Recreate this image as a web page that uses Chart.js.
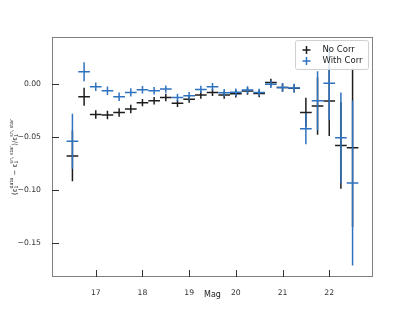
<!DOCTYPE html>
<html>
<head>
<meta charset="utf-8">
<script src="https://cdn.jsdelivr.net/npm/chart.js@4.4.1/dist/chart.umd.min.js"></script>
<style>
  html, body { margin: 0; padding: 0; background: #fff; }
  #wrap { width: 415px; height: 311px; }
</style>
</head>
<body>
<div id="wrap"><canvas id="chart" width="415" height="311"></canvas></div>
<script>
// Magnitude bin centres
var mags = [16.5, 16.75, 17.0, 17.25, 17.5, 17.75, 18.0, 18.25, 18.5, 18.75, 19.0, 19.25, 19.5,
            19.75, 20.0, 20.25, 20.5, 20.75, 21.0, 21.25, 21.5, 21.75, 22.0, 22.25, 22.5];
var binHalfWidth = 0.125;

// No Corr
var noCorr = [-0.0677, -0.0117, -0.0285, -0.0290, -0.0266, -0.0234, -0.0173, -0.0155, -0.0124,
              -0.0180, -0.0140, -0.0102, -0.0076, -0.0102, -0.0089, -0.0064, -0.0086, 0.0018,
              -0.0029, -0.0038, -0.0266, -0.0206, -0.0158, -0.0579, -0.0601];
var noCorrErr = [0.024, 0.0085, 0.004, 0.004, 0.004, 0.004, 0.0035, 0.0035, 0.0035, 0.0035,
                 0.0035, 0.0035, 0.0035, 0.0035, 0.0035, 0.0035, 0.0035, 0.0035, 0.004, 0.004,
                 0.014, 0.027, 0.033, 0.041, 0.075];

// With Corr
var withCorr = [-0.0538, 0.0120, -0.0022, -0.0060, -0.0117, -0.0076, -0.0051, -0.0061, -0.0045,
                -0.0124, -0.0108, -0.0048, -0.0023, -0.0080, -0.0075, -0.0054, -0.0076, 0.0000,
                -0.0029, -0.0035, -0.0421, -0.0155, 0.0010, -0.0506, -0.0933];
var withCorrErr = [0.026, 0.009, 0.004, 0.004, 0.004, 0.004, 0.0035, 0.0035, 0.0035, 0.0035,
                   0.0035, 0.0035, 0.0035, 0.0035, 0.0035, 0.0035, 0.0035, 0.0035, 0.004, 0.004,
                   0.0145, 0.028, 0.035, 0.043, 0.078];

var xTicks = [17, 18, 19, 20, 21, 22];
var yTicks = [0.0, -0.05, -0.10, -0.15];

var BLACK = '#1e1e1e';
var BLUE = '#2f73c0';
var FONT = '"DejaVu Sans", sans-serif';

function pts(ys, errs) {
    return mags.map(function (m, i) { return { x: m, y: ys[i], err: errs[i] }; });
}

// error bars, frame, inward ticks, labels, legend
var drawPlugin = {
    id: 'drawPlugin',
    afterDatasetsDraw: function (chart) {
        var ctx = chart.ctx, xs = chart.scales.x, ys = chart.scales.y, a = chart.chartArea;
        ctx.save();
        ctx.beginPath();
        ctx.rect(a.left, a.top, a.right - a.left, a.bottom - a.top);
        ctx.clip();
        chart.data.datasets.forEach(function (ds) {
            ctx.strokeStyle = ds.borderColor;
            ctx.lineWidth = 1.5;
            ds.data.forEach(function (p) {
                var px = xs.getPixelForValue(p.x), py = ys.getPixelForValue(p.y);
                ctx.beginPath();
                ctx.moveTo(xs.getPixelForValue(p.x - binHalfWidth), py);
                ctx.lineTo(xs.getPixelForValue(p.x + binHalfWidth), py);
                ctx.moveTo(px, ys.getPixelForValue(p.y - p.err));
                ctx.lineTo(px, ys.getPixelForValue(p.y + p.err));
                ctx.stroke();
            });
        });
        ctx.restore();

        ctx.save();
        // frame
        ctx.strokeStyle = '#808080';
        ctx.lineWidth = 1;
        ctx.strokeRect(Math.round(a.left) + 0.5, Math.round(a.top) + 0.5,
                       Math.round(a.right - a.left) - 1, Math.round(a.bottom - a.top) - 1);
        // inward ticks
        ctx.strokeStyle = '#333';
        ctx.beginPath();
        xTicks.forEach(function (t) {
            var px = Math.round(xs.getPixelForValue(t)) + 0.5;
            ctx.moveTo(px, a.bottom);
            ctx.lineTo(px, a.bottom - 7);
        });
        yTicks.forEach(function (t) {
            var py = Math.round(ys.getPixelForValue(t)) + 0.5;
            ctx.moveTo(a.left, py);
            ctx.lineTo(a.left + 7, py);
        });
        ctx.stroke();

        // x label
        ctx.fillStyle = '#222';
        ctx.font = '8px ' + FONT;
        ctx.textAlign = 'center';
        ctx.textBaseline = 'middle';
        ctx.fillText('Mag', (a.left + a.right) / 2, 295);

        // y label, rotated, with sub/superscripts
        var parts = [
            ['(\u03b5', 7, 0], ['1', 4.8, 2], ['data', 4.8, -3],
            [' \u2212 \u03b5', 7, 0], ['1', 4.8, 2], ['sn, star', 4.8, -3],
            [')/\u03b5', 7, 0], ['1', 4.8, 2], ['sn, star', 4.8, -3]
        ];
        var total = 0, i, subW = 0;
        var widths = parts.map(function (p) {
            ctx.font = p[1] + 'px ' + FONT;
            return ctx.measureText(p[0]).width;
        });
        // subscript and superscript share the same horizontal slot
        for (i = 0; i < parts.length; i++) {
            if (parts[i][2] > 0) { subW = widths[i]; continue; }
            if (parts[i][2] < 0) { total += Math.max(subW, widths[i]); subW = 0; continue; }
            total += widths[i];
        }
        ctx.translate(15, (a.top + a.bottom) / 2);
        ctx.rotate(-Math.PI / 2);
        ctx.textAlign = 'left';
        ctx.textBaseline = 'middle';
        var cx = -total / 2;
        for (i = 0; i < parts.length; i++) {
            ctx.font = parts[i][1] + 'px ' + FONT;
            ctx.fillText(parts[i][0], cx, parts[i][2]);
            if (parts[i][2] > 0) { subW = widths[i]; continue; }
            if (parts[i][2] < 0) { cx += Math.max(subW, widths[i]); subW = 0; continue; }
            cx += widths[i];
        }
        ctx.restore();

        // legend
        ctx.save();
        var lx = 295.5, ly = 40.5, lw = 73, lh = 29;
        ctx.fillStyle = 'rgba(255,255,255,0.8)';
        ctx.strokeStyle = '#d0d0d0';
        ctx.lineWidth = 1;
        ctx.beginPath();
        ctx.roundRect(lx, ly, lw, lh, 2);
        ctx.fill();
        ctx.stroke();
        chart.data.datasets.forEach(function (ds, k) {
            var my = 50 + k * 11;
            ctx.strokeStyle = ds.borderColor;
            ctx.lineWidth = 1.5;
            ctx.beginPath();
            ctx.moveTo(302.5, my); ctx.lineTo(310.5, my);
            ctx.moveTo(306.5, my - 4); ctx.lineTo(306.5, my + 4);
            ctx.stroke();
            ctx.fillStyle = '#222';
            ctx.font = '8.5px ' + FONT;
            ctx.textAlign = 'left';
            ctx.textBaseline = 'middle';
            ctx.fillText(ds.label, 322.5, my);
        });
        ctx.restore();
    }
};

new Chart(document.getElementById('chart').getContext('2d'), {
    type: 'scatter',
    data: {
        datasets: [
            { label: 'No Corr', data: pts(noCorr, noCorrErr), borderColor: BLACK, backgroundColor: BLACK, pointRadius: 0 },
            { label: 'With Corr', data: pts(withCorr, withCorrErr), borderColor: BLUE, backgroundColor: BLUE, pointRadius: 0 }
        ]
    },
    options: {
        responsive: false,
        animation: false,
        devicePixelRatio: 1,
        layout: { padding: { left: 0, right: 42, top: 37, bottom: 0 } },
        plugins: { legend: { display: false }, tooltip: { enabled: false } },
        scales: {
            x: {
                type: 'linear',
                min: 16.0625,
                max: 22.9375,
                grid: { display: false },
                border: { display: false },
                afterBuildTicks: function (s) { s.ticks = xTicks.map(function (v) { return { value: v }; }); },
                afterFit: function (s) { s.height = 34; },
                ticks: {
                    padding: 3,
                    color: '#333',
                    font: { family: FONT, size: 7.7 },
                    maxRotation: 0,
                    callback: function (v) { return String(v); }
                }
            },
            y: {
                min: -0.1823,
                max: 0.0448,
                grid: { display: false },
                border: { display: false },
                afterBuildTicks: function (s) { s.ticks = yTicks.map(function (v) { return { value: v }; }); },
                afterFit: function (s) { s.width = 52; },
                ticks: {
                    padding: 3,
                    color: '#333',
                    font: { family: FONT, size: 7.7 },
                    callback: function (v) { return v.toFixed(2).replace('-', '\u2212'); }
                }
            }
        }
    },
    plugins: [drawPlugin]
});
</script>
</body>
</html>
